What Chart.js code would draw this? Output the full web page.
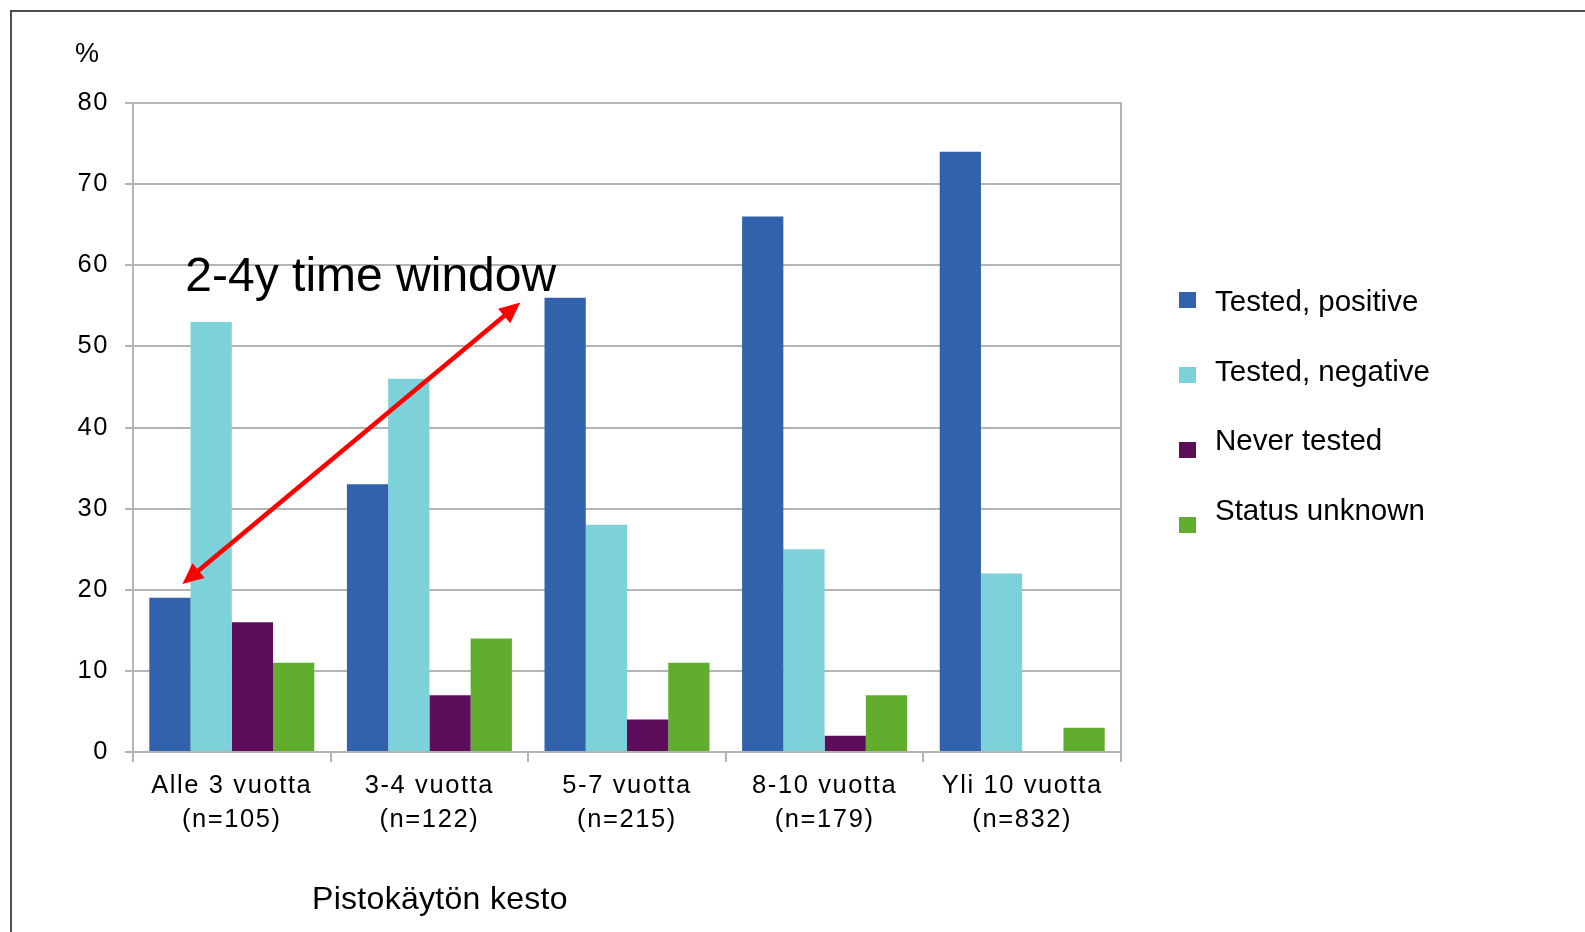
<!DOCTYPE html>
<html>
<head>
<meta charset="utf-8">
<script src="https://cdn.jsdelivr.net/npm/chart.js@4.4.1/dist/chart.umd.min.js"></script>
<style>
  html, body { margin: 0; padding: 0; background: #fff; }
  canvas { display: block; }
</style>
</head>
<body>
<canvas id="chart" width="1585" height="932"></canvas>
<script>
// Duration of injecting drug use (two-line category labels)
const categories = [
  ['Alle 3 vuotta', '(n=105)'],
  ['3-4 vuotta', '(n=122)'],
  ['5-7 vuotta', '(n=215)'],
  ['8-10 vuotta', '(n=179)'],
  ['Yli 10 vuotta', '(n=832)']
];
const seriesNames = ['Tested, positive', 'Tested, negative', 'Never tested', 'Status unknown'];

// Share of respondents, %
const testedPositive = [19, 33, 56, 66, 74];
const testedNegative = [53, 46, 28, 25, 22];
const neverTested   = [16, 7, 4, 2, 0];
const statusUnknown = [11, 14, 11, 7, 3];

const yTicks = [0, 10, 20, 30, 40, 50, 60, 70, 80];

const seriesColors = ['#3162ab', '#7dd1d8', '#5c0e5a', '#61ae2e'];
const FONT = "'Liberation Sans', Arial, sans-serif";
const AXIS_GREY = '#b4b4b4';

// Arrow marking the 2-4 year window, in axis units (category index, %)
const windowArrow = { from: { x: -0.25, y: 20.7 }, to: { x: 1.46, y: 55.4 } };
const windowNote = { text: '2-4y time window', x: -0.235, y: 56.8 };

const pageFrame = {
  id: 'pageFrame',
  beforeDraw(chart) {
    const { ctx, width, height } = chart;
    ctx.save();
    ctx.fillStyle = '#fff';
    ctx.fillRect(0, 0, width, height);
    ctx.strokeStyle = '#4d4d4d';
    ctx.lineWidth = 2;
    ctx.beginPath();
    ctx.moveTo(11, height);
    ctx.lineTo(11, 11);
    ctx.lineTo(width, 11);
    ctx.stroke();
    ctx.restore();
    // axis labels are set slightly open
    ctx.letterSpacing = '1.6px';
  },
  beforeDatasetsDraw(chart) {
    chart.ctx.letterSpacing = '0px';
  }
};

function drawDoubleArrow(ctx, x1, y1, x2, y2, head, half) {
  const ang = Math.atan2(y2 - y1, x2 - x1);
  const len = Math.hypot(x2 - x1, y2 - y1);
  ctx.save();
  ctx.translate(x1, y1);
  ctx.rotate(ang);
  ctx.beginPath();
  ctx.moveTo(head * 0.8, 0);
  ctx.lineTo(len - head * 0.8, 0);
  ctx.stroke();
  ctx.beginPath();
  ctx.moveTo(0, 0); ctx.lineTo(head, -half); ctx.lineTo(head, half); ctx.closePath();
  ctx.fill();
  ctx.beginPath();
  ctx.moveTo(len, 0); ctx.lineTo(len - head, -half); ctx.lineTo(len - head, half); ctx.closePath();
  ctx.fill();
  ctx.restore();
}

const annotations = {
  id: 'annotations',
  afterDraw(chart) {
    const { ctx, chartArea } = chart;
    const xs = chart.scales.x, ys = chart.scales.y;
    ctx.save();
    ctx.letterSpacing = '0px';

    // unit label above the value axis
    ctx.fillStyle = '#000';
    ctx.font = `27px ${FONT}`;
    ctx.textAlign = 'left';
    ctx.textBaseline = 'alphabetic';
    ctx.fillText('%', 75, 62);

    // category axis title
    ctx.font = `32px ${FONT}`;
    ctx.letterSpacing = '0.3px';
    ctx.fillText('Pistokäytön kesto', chartArea.left + 179, 909);
    ctx.letterSpacing = '0px';

    // time-window note and arrow
    ctx.font = `48px ${FONT}`;
    ctx.fillText(windowNote.text, xs.getPixelForValue(windowNote.x), ys.getPixelForValue(windowNote.y));
    ctx.strokeStyle = '#ff0000';
    ctx.fillStyle = '#ff0000';
    ctx.lineWidth = 4.5;
    drawDoubleArrow(ctx,
      xs.getPixelForValue(windowArrow.from.x), ys.getPixelForValue(windowArrow.from.y),
      xs.getPixelForValue(windowArrow.to.x), ys.getPixelForValue(windowArrow.to.y),
      21, 9.5);

    // legend
    ctx.font = `29.5px ${FONT}`;
    chart.data.datasets.forEach((ds, i) => {
      ctx.fillStyle = ds.backgroundColor;
      ctx.fillRect(1179, 292 + i * 75, 17, 16);
      ctx.fillStyle = '#000';
      ctx.fillText(ds.label, 1215, 311 + i * 69.7);
    });
    ctx.restore();
  }
};

const seriesValues = [testedPositive, testedNegative, neverTested, statusUnknown];

new Chart(document.getElementById('chart'), {
  type: 'bar',
  data: {
    labels: categories,
    datasets: seriesValues.map((vals, i) => ({
      label: seriesNames[i],
      data: vals,
      backgroundColor: seriesColors[i],
      borderWidth: 0,
      categoryPercentage: 0.835,
      barPercentage: 1
    }))
  },
  options: {
    responsive: false,
    animation: false,
    devicePixelRatio: 1,
    layout: { padding: { top: 103, right: 464, bottom: 80, left: 0 } },
    plugins: {
      legend: { display: false },
      tooltip: { enabled: false },
      title: { display: false }
    },
    scales: {
      x: {
        afterFit: s => { s.height = 100; },
        ticks: {
          font: { family: FONT, size: 25.5, lineHeight: 1.33 },
          color: '#000',
          padding: 7,
          maxRotation: 0,
          autoSkip: false
        },
        grid: { drawOnChartArea: false, tickLength: 10, color: AXIS_GREY, lineWidth: 2 },
        border: { color: AXIS_GREY, width: 2 }
      },
      y: {
        min: 0,
        max: 80,
        afterFit: s => { s.width = 133; },
        afterBuildTicks: s => { s.ticks = yTicks.map(v => ({ value: v })); },
        ticks: { font: { family: FONT, size: 25.5 }, color: '#000', padding: 16 },
        grid: { color: AXIS_GREY, lineWidth: 2, tickLength: 8 },
        border: { color: AXIS_GREY, width: 2 }
      },
      yRight: {
        position: 'right',
        min: 0,
        max: 80,
        afterFit: s => { s.width = 0; },
        ticks: { display: false },
        grid: { drawOnChartArea: false, drawTicks: false },
        border: { display: true, color: AXIS_GREY, width: 2 }
      }
    }
  },
  plugins: [pageFrame, annotations]
});
</script>
</body>
</html>
